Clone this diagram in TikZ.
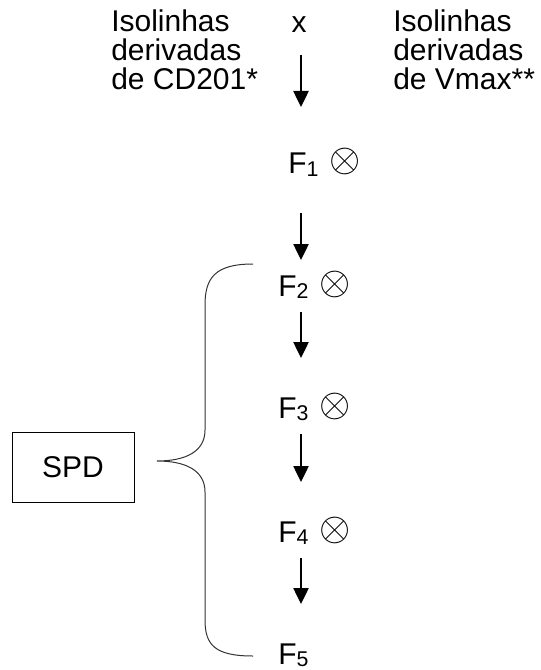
\documentclass[tikz,border=0pt]{standalone}
\usepackage{fontspec}
\setmainfont{Liberation Sans}
\usepackage{tikz}
\usetikzlibrary{arrows.meta,positioning,calc}
\newcommand{\fsub}[1]{\raisebox{-2pt}{\fontsize{16}{16}\selectfont#1}}
\newcommand{\otim}{\raisebox{1.5pt}{\scalebox{1.45}{$\otimes$}}}

\begin{document}
\begin{tikzpicture}[x=0.75pt,y=-0.75pt,
    txt/.style={font=\fontsize{22.5}{21.75}\selectfont,inner sep=0pt},
    flow/.style={-{Triangle[length=12pt,width=11.5pt]},line width=1pt}]
    \useasboundingbox (0,0) rectangle (541,670);

    % Header texts
    \node[txt,align=left,anchor=base west] (isoL) at (111,90) {Isolinhas\\derivadas\\de CD201*};
    \node[txt,anchor=base] (xin) at (299,33) {x};
    \node[txt,align=left,anchor=base west] (isoR) at (393,90) {Isolinhas\\derivadas\\de Vmax**};

    % Chain F1..F5
    \foreach \i/\x/\y in {1/288/174,2/278/296,3/278/418,4/278/542}
      \node[txt,anchor=base west] (f\i) at (\x,\y) {F\fsub{\i}\hspace{8pt}\otim};
    \node[txt,anchor=base west] (f5) at (278,664) {F\fsub{5}};

    % Arrows
    \coordinate (axis) at (301,0);
    \draw[flow,shorten <=16.5pt,shorten >=50.25pt] (xin.base -| axis) -- (f1.base -| axis);
    \draw[flow,shorten <=29.25pt,shorten >=27pt] (f1.base -| axis) -- (f2.base -| axis);
    \foreach \a/\b in {f2/f3,f3/f4,f4/f5}
      \draw[flow,shorten <=12pt,shorten >=45pt] (\a.base -| axis) -- (\b.base -| axis);

    % SPD box and brace
    \node[txt,draw,line width=0.75pt,minimum width=91.5pt,minimum height=52.5pt] (spd) at (73,467) {SPD};
    \draw[line width=0.75pt,black!80] (253,264) .. controls (215,264) and (205,278) .. (205,305)
      -- (205,430) .. controls (205,452) and (185,461) .. (157,461)
      .. controls (185,461) and (205,470) .. (205,492)
      -- (205,620) .. controls (205,645) and (215,656) .. (253,656);
  \end{tikzpicture}
\end{document}
